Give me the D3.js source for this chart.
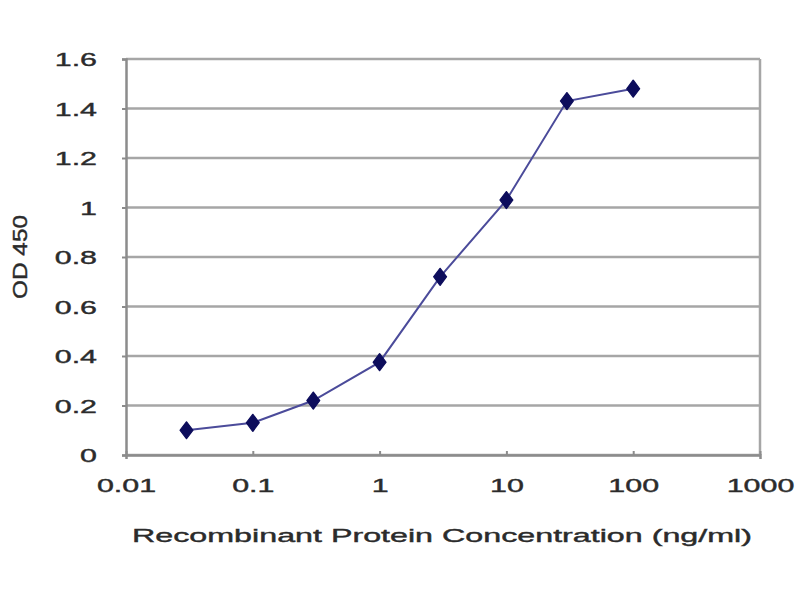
<!DOCTYPE html>
<html>
<head>
<meta charset="utf-8">
<script src="https://cdn.jsdelivr.net/npm/d3@7"></script>
<style>
  body { margin: 0; background: #fff; }
  text { font-family: "Liberation Sans", Arial, sans-serif; fill: #2b2b2b; stroke: #2b2b2b; stroke-width: 0.4px; }
</style>
</head>
<body>
<div id="chart"></div>
<script>
// data
const concentrations = [0.03, 0.1, 0.3, 1, 3, 10, 30, 100];
const odValues = [0.1, 0.13, 0.22, 0.375, 0.72, 1.03, 1.43, 1.48];
const xTicks = [0.01, 0.1, 1, 10, 100, 1000];
const xTickLabels = ["0.01", "0.1", "1", "10", "100", "1000"];
const yTicks = [0, 0.2, 0.4, 0.6, 0.8, 1, 1.2, 1.4, 1.6];
const yTickLabels = ["0", "0.2", "0.4", "0.6", "0.8", "1", "1.2", "1.4", "1.6"];

const width = 800, height = 600;
const margin = { top: 59, right: 40, bottom: 145, left: 126 };
// the original image is stretched sideways, so text is widened too
const stretch = 1.6;

const svg = d3.select("#chart")
  .append("svg")
  .attr("width", width)
  .attr("height", height);

const x = d3.scaleLog()
  .domain([0.01, 1000])
  .range([margin.left, width - margin.right]);

const y = d3.scaleLinear()
  .domain([0, 1.6])
  .range([height - margin.bottom, margin.top]);

// horizontal gridlines
svg.append("g")
  .selectAll("line")
  .data(yTicks)
  .join("line")
  .attr("x1", x(0.01))
  .attr("x2", x(1000))
  .attr("y1", d => y(d))
  .attr("y2", d => y(d))
  .attr("stroke", "#a6a6a6")
  .attr("stroke-width", 2.5);

// right border
svg.append("line")
  .attr("x1", x(1000)).attr("x2", x(1000))
  .attr("y1", y(0)).attr("y2", y(1.6))
  .attr("stroke", "#a6a6a6")
  .attr("stroke-width", 2.5);

// y axis
const yAxis = svg.append("g")
  .attr("transform", `translate(${x(0.01)},0)`)
  .call(d3.axisLeft(y).tickValues(yTicks).tickSize(4)
    .tickFormat((d, i) => yTickLabels[i]));

// x axis
const xAxis = svg.append("g")
  .attr("transform", `translate(0,${y(0)})`)
  .call(d3.axisBottom(x).tickValues(xTicks).tickSize(4)
    .tickFormat((d, i) => xTickLabels[i]));

[yAxis, xAxis].forEach(ax => {
  ax.select(".domain").attr("stroke", "#8c8c8c").attr("stroke-width", 2.5);
  ax.selectAll(".tick line").attr("stroke", "#8c8c8c").attr("stroke-width", 2);
  ax.selectAll(".tick text")
    .style("font-size", "19px")
    .attr("fill", "#2b2b2b");
});
xAxis.selectAll(".tick line").attr("y2", -4);
yAxis.selectAll(".tick text").attr("x", -29).attr("dy", "0.35em");
xAxis.selectAll(".tick text").attr("y", 30).attr("dy", "0.35em");

// widen tick labels like the picture
svg.selectAll(".tick text").each(function () {
  const len = this.getComputedTextLength();
  d3.select(this)
    .attr("textLength", len * stretch)
    .attr("lengthAdjust", "spacingAndGlyphs");
});

// line
const line = d3.line()
  .x((d, i) => x(concentrations[i]))
  .y(d => y(d));

svg.append("path")
  .datum(odValues)
  .attr("d", line)
  .attr("fill", "none")
  .attr("stroke", "#4b4b9a")
  .attr("stroke-width", 2);

// diamond markers
svg.append("g")
  .selectAll("path")
  .data(odValues)
  .join("path")
  .attr("d", d3.symbol().type(d3.symbolDiamond).size(85))
  .attr("transform", (d, i) => `translate(${x(concentrations[i])},${y(d)}) scale(1.3,1)`)
  .attr("fill", "#0d0d5c")
  .attr("stroke", "#0d0d5c")
  .attr("stroke-width", 1)
  .attr("stroke-linejoin", "round");

// axis titles
svg.append("text")
  .attr("x", 442)
  .attr("y", 537)
  .attr("text-anchor", "middle")
  .attr("dominant-baseline", "middle")
  .attr("textLength", 620)
  .attr("lengthAdjust", "spacingAndGlyphs")
  .style("font-size", "19px")
  .text("Recombinant Protein Concentration (ng/ml)");

svg.append("text")
  .attr("transform", "translate(22,257) rotate(-90)")
  .attr("text-anchor", "middle")
  .attr("dominant-baseline", "middle")
  .attr("textLength", 84)
  .attr("lengthAdjust", "spacingAndGlyphs")
  .style("font-size", "20px")
  .text("OD 450");
</script>
</body>
</html>
